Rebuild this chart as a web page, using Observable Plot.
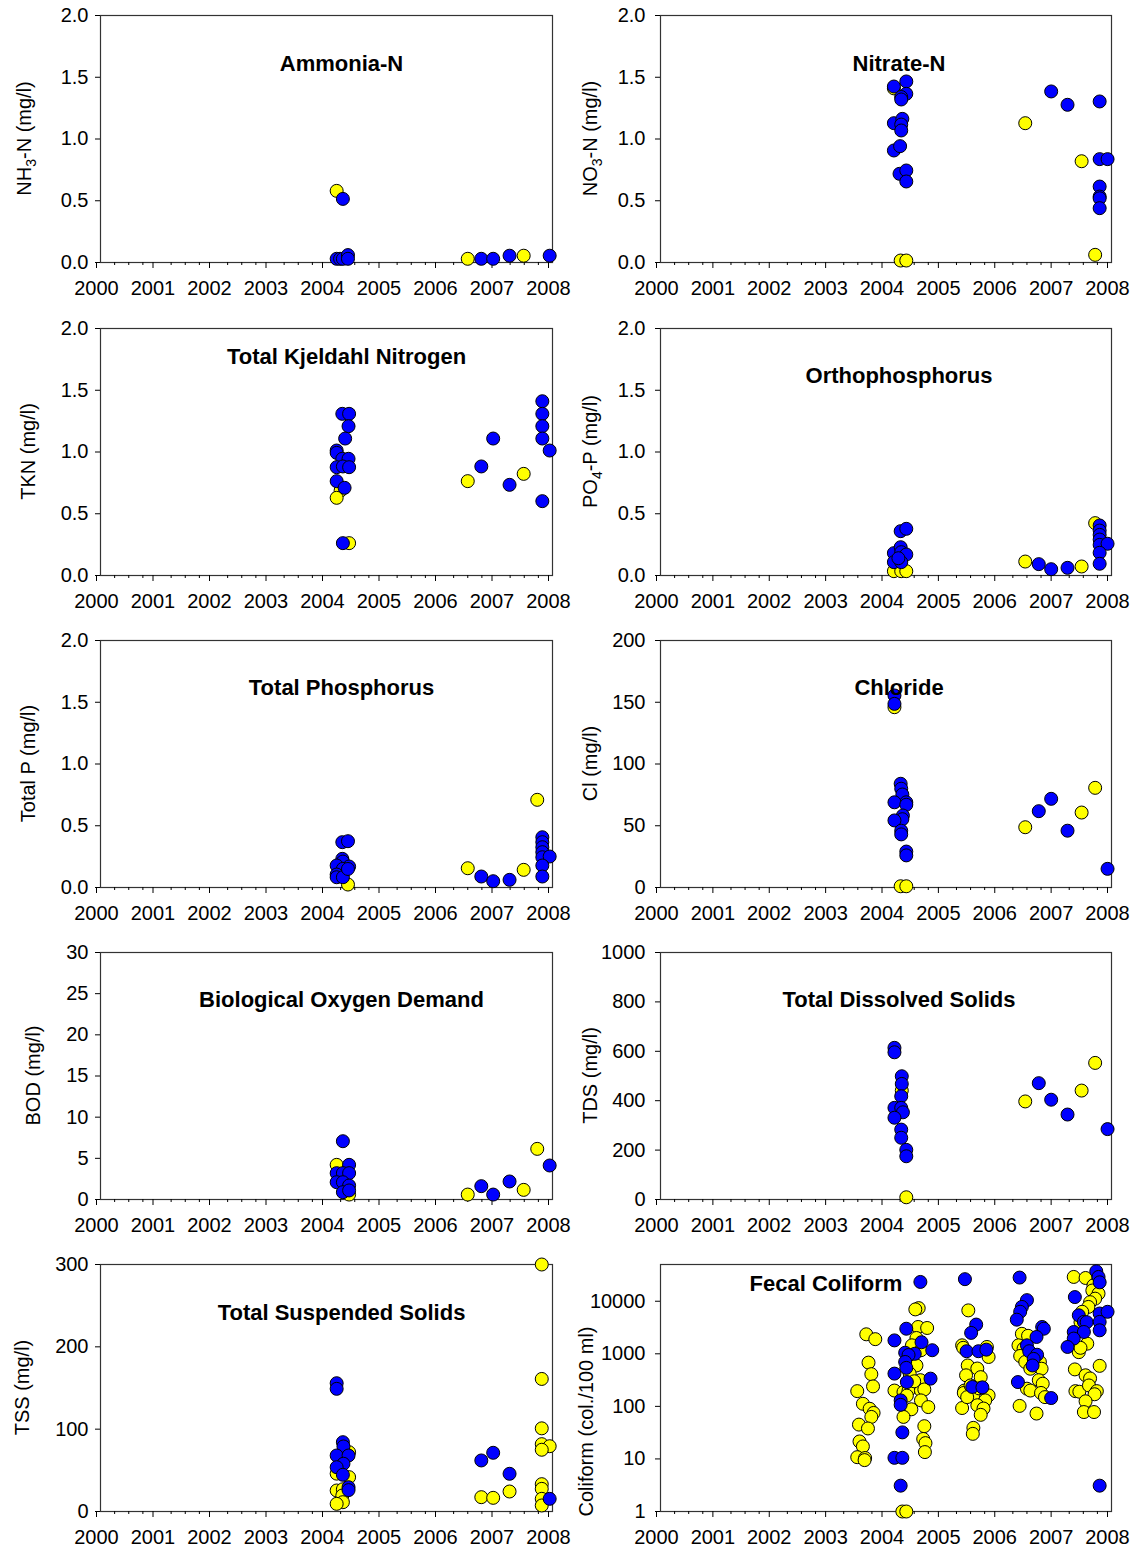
<!DOCTYPE html>
<html>
<head>
<meta charset="utf-8">
<script src="https://cdn.jsdelivr.net/npm/d3@7"></script>
<script src="https://cdn.jsdelivr.net/npm/@observablehq/plot@0.6"></script>
<style>
  body { margin: 0; background: #fff; }
  #grid { position: relative; width: 1131px; height: 1547px; overflow: hidden;
          font-family: "Liberation Sans", Arial, sans-serif; }
  #grid svg { position: absolute; overflow: visible; }
</style>
</head>
<body>
<div id="grid"></div>
<script>
// Sample results as [decimal year, value]; series A = yellow, series B = blue.
const ammoniaA = [[2004.18,0.58],[2006.50,0.03],[2007.49,0.055]];
const ammoniaB = [[2004.29,0.515],[2004.18,0.03],[2004.24,0.03],[2004.29,0.03],[2004.38,0.06],[2004.38,0.03],[2006.74,0.03],[2006.95,0.03],[2007.24,0.055],[2007.95,0.055]];

const nitrateA = [[2004.14,1.41],[2004.26,0.016],[2004.36,0.016],[2006.47,1.128],[2007.47,0.82],[2007.71,0.062]];
const nitrateB = [[2004.14,1.425],[2004.36,1.466],[2004.36,1.366],[2004.27,1.34],[2004.27,1.32],[2004.14,1.128],[2004.29,1.163],[2004.27,1.117],[2004.27,1.069],[2004.14,0.907],[2004.25,0.942],[2004.24,0.718],[2004.36,0.745],[2004.36,0.656],[2006.93,1.385],[2007.22,1.277],[2007.79,1.304],[2007.79,0.837],[2007.93,0.837],[2007.79,0.615],[2007.79,0.534],[2007.79,0.52],[2007.79,0.44]];

const tknA = [[2004.25,0.688],[2004.18,0.629],[2004.40,0.262],[2006.50,0.764],[2007.49,0.823]];
const tknB = [[2004.28,1.309],[2004.40,1.309],[2004.39,1.209],[2004.33,1.109],[2004.18,1.012],[2004.18,0.993],[2004.28,0.945],[2004.39,0.945],[2004.18,0.877],[2004.29,0.883],[2004.40,0.877],[2004.18,0.764],[2004.32,0.71],[2004.29,0.262],[2006.74,0.883],[2006.95,1.109],[2007.24,0.734],[2007.82,1.411],[2007.82,1.309],[2007.82,1.209],[2007.82,1.109],[2007.95,1.012],[2007.82,0.602]];

const orthoA = [[2004.14,0.035],[2004.27,0.035],[2004.36,0.035],[2006.47,0.113],[2007.47,0.073],[2007.71,0.424]];
const orthoB = [[2004.26,0.359],[2004.36,0.378],[2004.14,0.181],[2004.26,0.229],[2004.27,0.189],[2004.36,0.17],[2004.14,0.108],[2004.27,0.108],[2004.22,0.14],[2006.71,0.092],[2006.93,0.051],[2007.22,0.062],[2007.79,0.405],[2007.79,0.364],[2007.79,0.329],[2007.79,0.291],[2007.79,0.248],[2007.93,0.257],[2007.79,0.184],[2007.79,0.095]];

const totalPA = [[2004.38,0.024],[2006.50,0.156],[2007.49,0.143],[2007.73,0.71]];
const totalPB = [[2004.28,0.367],[2004.38,0.375],[2004.28,0.232],[2004.29,0.21],[2004.18,0.178],[2004.40,0.17],[2004.29,0.151],[2004.18,0.105],[2004.18,0.083],[2004.29,0.083],[2004.38,0.15],[2006.74,0.089],[2006.95,0.051],[2007.24,0.062],[2007.82,0.407],[2007.82,0.367],[2007.82,0.326],[2007.82,0.286],[2007.82,0.245],[2007.95,0.251],[2007.82,0.178],[2007.82,0.089]];

const chlorideA = [[2004.15,146],[2004.26,1],[2004.36,1],[2006.47,48.8],[2007.47,60.7],[2007.71,80.7]];
const chlorideB = [[2004.15,155.5],[2004.15,148.7],[2004.26,84],[2004.27,80],[2004.29,75.3],[2004.36,69],[2004.15,69],[2004.36,67],[2004.30,58.3],[2004.29,55.3],[2004.15,54.3],[2004.27,46],[2004.27,43],[2004.36,29.1],[2004.36,26],[2006.71,61.8],[2006.93,71.8],[2007.22,46],[2007.93,15.1]];

const bodA = [[2004.18,4.21],[2004.40,0.6],[2006.50,0.6],[2007.49,1.17],[2007.73,6.15]];
const bodB = [[2004.29,7.08],[2004.40,4.21],[2004.18,3.2],[2004.29,3.2],[2004.40,3.2],[2004.18,2.1],[2004.29,2.1],[2004.40,1.7],[2004.29,0.89],[2004.40,1.1],[2006.74,1.62],[2006.95,0.6],[2007.24,2.19],[2007.95,4.13]];

const tdsA = [[2004.28,441],[2004.36,9],[2006.47,397],[2007.47,441],[2007.71,553]];
const tdsB = [[2004.15,614],[2004.15,596],[2004.28,499],[2004.28,468],[2004.27,418],[2004.15,371],[2004.27,371],[2004.30,353],[2004.15,331],[2004.27,283],[2004.27,250],[2004.36,201],[2004.36,175],[2006.71,471],[2006.93,404],[2007.22,344],[2007.93,285]];

const tssA = [[2004.40,72],[2004.18,46],[2004.40,41.7],[2004.18,25.5],[2004.29,27],[2004.28,19.4],[2004.29,11.3],[2004.18,9.3],[2006.74,17.4],[2006.95,16.6],[2007.24,24.3],[2007.81,300],[2007.81,161],[2007.81,101],[2007.81,81.8],[2007.95,79.3],[2007.81,75],[2007.81,33.2],[2007.81,27.5],[2007.81,15.4],[2007.81,7.3]];
const tssB = [[2004.18,155.8],[2004.18,149],[2004.29,84.2],[2004.30,79],[2004.18,68],[2004.39,68],[2004.30,58],[2004.18,53.8],[2004.29,44.6],[2004.39,29.5],[2004.39,26],[2006.74,62],[2006.95,71.3],[2007.24,45.8],[2007.95,15.4]];

const coliformA = [
  [2003.65,2350],[2003.81,1900],[2003.69,680],[2003.74,410],[2003.77,240],[2003.49,195],[2003.59,112],[2003.71,90],[2003.78,75],[2003.74,63],[2003.52,45],[2003.68,38],[2003.53,21.5],[2003.59,17.3],[2003.49,10.8],[2003.63,10.4],[2003.62,9.5],
  [2004.58,7400],[2004.52,7000],[2004.57,3240],[2004.73,3100],[2004.54,2000],[2004.46,1450],[2004.62,1170],[2004.54,600],[2004.61,315],[2004.15,200],[2004.31,187],[2004.40,200],[2004.62,200],[2004.68,210],[2004.62,130],[2004.45,88],[2004.75,97],[2004.31,63],[2004.68,42],[2004.66,24],[2004.70,20],[2004.69,13.5],[2004.29,1],[2004.36,1],[2004.42,420],[2004.50,300],[2004.37,160],
  [2005.46,6700],[2005.35,1450],[2005.37,1300],[2005.79,1350],[2005.82,870],[2005.45,600],[2005.62,525],[2005.42,390],[2005.68,360],[2005.39,200],[2005.38,180],[2005.55,162],[2005.82,162],[2005.76,130],[2005.35,93],[2005.62,105],[2005.73,91],[2005.68,69],[2005.55,39],[2005.54,30],[2005.50,250],[2005.65,220],[2005.44,150],
  [2006.41,2400],[2006.52,2200],[2006.35,1450],[2006.44,1250],[2006.38,910],[2006.47,700],[2006.73,700],[2006.76,520],[2006.56,520],[2006.71,315],[2006.78,270],[2006.50,217],[2006.56,200],[2006.75,180],[2006.37,102],[2006.67,73],[2006.82,150],
  [2007.33,29000],[2007.54,27700],[2007.68,20000],[2007.66,16000],[2007.77,14000],[2007.71,11200],[2007.62,9600],[2007.59,7800],[2007.48,6300],[2007.45,4000],[2007.57,1560],[2007.42,1075],[2007.45,1300],[2007.79,590],[2007.35,505],[2007.54,390],[2007.62,340],[2007.36,195],[2007.43,190],[2007.60,250],[2007.74,195],[2007.70,170],[2007.54,125],[2007.51,78],[2007.69,78]
];
const coliformB = [
  [2004.61,23300],[2004.15,1800],[2004.36,3000],[2004.63,1660],[2004.82,1170],[2004.34,1050],[2004.51,1000],[2004.40,950],[2004.34,700],[2004.36,540],[2004.15,420],[2004.37,290],[2004.79,337],[2004.26,130],[2004.26,107],[2004.29,32],[2004.15,10.5],[2004.29,10.5],[2004.26,3.1],
  [2005.40,26300],[2005.60,3600],[2005.51,2500],[2005.43,1120],[2005.64,1120],[2005.78,1200],[2005.53,234],[2005.71,230],
  [2006.37,28200],[2006.50,10500],[2006.41,7800],[2006.38,6300],[2006.32,4460],[2006.77,3240],[2006.80,3000],[2006.67,2090],[2006.50,1450],[2006.54,1120],[2006.68,960],[2006.62,800],[2006.60,600],[2006.34,290],[2006.93,144],
  [2007.73,37200],[2007.77,29000],[2007.79,22900],[2007.35,12000],[2007.42,5400],[2007.51,4050],[2007.56,4000],[2007.79,5840],[2007.79,4050],[2007.93,6300],[2007.79,2800],[2007.33,2600],[2007.51,2600],[2007.33,1950],[2007.22,1350],[2007.79,3.1]
];

// Axis ticks
const yearTicks = d3.range(2000, 2009);
const quarterTicks = d3.range(2000, 2008.01, 0.25).filter(d => d % 1 !== 0);
const mgTicks = [0, 0.5, 1, 1.5, 2];
const chlorideTicks = [0, 50, 100, 150, 200];
const bodTicks = [0, 5, 10, 15, 20, 25, 30];
const tdsTicks = [0, 200, 400, 600, 800, 1000];
const tssTicks = [0, 100, 200, 300];
const coliformTicks = [1, 10, 100, 1000, 10000];

const one = d3.format(".1f");
const plain = d => String(d);

// Panel layout: [row, column]; y label parts are [text, subscript, text]
const panels = [
  {title: "Ammonia-N", label: ["NH", "3", "-N (mg/l)"], a: ammoniaA, b: ammoniaB, domain: [0, 2], ticks: mgTicks, fmt: one, row: 0, col: 0, tdx: 15, tdy: 48, lx: 24, ly: 0},
  {title: "Nitrate-N", label: ["NO", "3", "-N (mg/l)"], a: nitrateA, b: nitrateB, domain: [0, 2], ticks: mgTicks, fmt: one, row: 0, col: 1, tdx: 13, tdy: 48, lx: 30, ly: 0},
  {title: "Total Kjeldahl Nitrogen", label: ["TKN (mg/l)"], a: tknA, b: tknB, domain: [0, 2], ticks: mgTicks, fmt: one, row: 1, col: 0, tdx: 20, tdy: 28, lx: 28, ly: 0},
  {title: "Orthophosphorus", label: ["PO", "4", "-P (mg/l)"], a: orthoA, b: orthoB, domain: [0, 2], ticks: mgTicks, fmt: one, row: 1, col: 1, tdx: 13, tdy: 47, lx: 30, ly: 0},
  {title: "Total Phosphorus", label: ["Total P (mg/l)"], a: totalPA, b: totalPB, domain: [0, 2], ticks: mgTicks, fmt: one, row: 2, col: 0, tdx: 15, tdy: 47, lx: 28, ly: 0},
  {title: "Chloride", label: ["Cl (mg/l)"], a: chlorideA, b: chlorideB, domain: [0, 200], ticks: chlorideTicks, fmt: plain, row: 2, col: 1, tdx: 13, tdy: 47, lx: 30, ly: 0},
  {title: "Biological Oxygen Demand", label: ["BOD (mg/l)"], a: bodA, b: bodB, domain: [0, 30], ticks: bodTicks, fmt: plain, row: 3, col: 0, tdx: 15, tdy: 47, lx: 33, ly: 0},
  {title: "Total Dissolved Solids", label: ["TDS (mg/l)"], a: tdsA, b: tdsB, domain: [0, 1000], ticks: tdsTicks, fmt: plain, row: 3, col: 1, tdx: 13, tdy: 47, lx: 30, ly: 0},
  {title: "Total Suspended Solids", label: ["TSS (mg/l)"], a: tssA, b: tssB, domain: [0, 300], ticks: tssTicks, fmt: plain, row: 4, col: 0, tdx: 15, tdy: 48, lx: 22, ly: 0},
  {title: "Fecal Coliform", label: ["Coliform (col./100 ml)"], a: coliformA, b: coliformB, domain: [1, 50000], log: true, ticks: coliformTicks, fmt: plain, row: 4, col: 1, tdx: -60, tdy: 19, lx: 26, ly: 34}
];

const rowTops = [0, 313, 625, 937, 1249];
const FONT = "'Liberation Sans', Arial, Helvetica, sans-serif";
const grid = document.getElementById("grid");

for (const p of panels) {
  const left = p.col === 0;
  const width = left ? 560 : 571;
  const dotOpts = {x: d => d[0], y: d => d[1], r: 6.5, stroke: "#000", strokeWidth: 1};
  const svg = Plot.plot({
    width,
    height: 312,
    marginLeft: 100,
    marginRight: left ? 8 : 20,
    marginTop: 15,
    marginBottom: 50,
    style: {fontFamily: FONT, fontSize: "20px", color: "#000", background: "transparent", overflow: "visible"},
    x: {domain: [2000, 2008]},
    y: p.log ? {type: "log", domain: p.domain} : {domain: p.domain},
    marks: [
      Plot.frame({stroke: "#333", strokeWidth: 1.2}),
      Plot.axisX({ticks: quarterTicks, tickSize: 3, tickFormat: () => "", label: null, stroke: "#000"}),
      Plot.axisX({ticks: yearTicks, tickSize: 6, tickPadding: 12, tickFormat: plain, dx: -4, label: null, stroke: "#000", fontSize: 20}),
      Plot.axisY({ticks: p.ticks, tickSize: 5, tickPadding: left ? 7 : 10, tickFormat: p.fmt, label: null, stroke: "#000", fontSize: 20}),
      Plot.dot(p.a, {...dotOpts, fill: "#ffff00"}),
      Plot.dot(p.b, {...dotOpts, fill: "#0000ff"}),
      Plot.text([p.title], {frameAnchor: "top", lineAnchor: "middle", dx: p.tdx, dy: p.tdy, fontWeight: "bold", fontSize: 22, fill: "#000"})
    ]
  });
  svg.style.left = (left ? 0 : 560) + "px";
  svg.style.top = rowTops[p.row] + "px";

  // Rotated y-axis title, with subscripts where needed
  const t = d3.select(svg).append("text")
    .attr("transform", `translate(${p.lx},${15 + 247 / 2 + p.ly}) rotate(-90)`)
    .attr("text-anchor", "middle")
    .attr("dy", "0.35em")
    .attr("font-size", 20)
    .attr("font-family", FONT)
    .attr("fill", "#000");
  if (p.label.length === 1) {
    t.text(p.label[0]);
  } else {
    t.append("tspan").text(p.label[0]);
    t.append("tspan").attr("dy", 5).attr("font-size", 14).text(p.label[1]);
    t.append("tspan").attr("dy", -5).text(p.label[2]);
  }
  grid.appendChild(svg);
}
</script>
</body>
</html>
